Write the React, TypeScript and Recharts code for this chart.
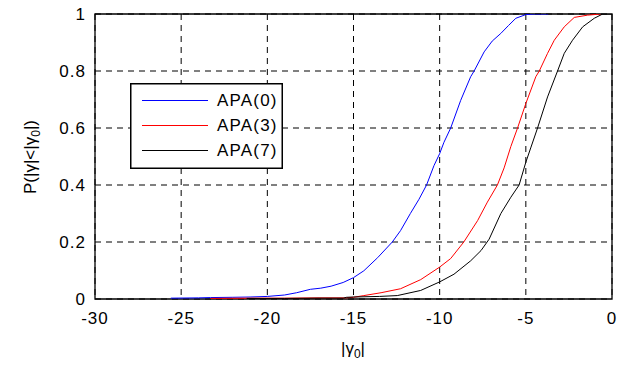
import React from 'react';
import { LineChart, Line, XAxis, YAxis, CartesianGrid, ReferenceArea, Legend, Customized } from 'recharts';

const apa0X = [-25.6, -24, -23.3, -22, -21, -20, -19, -18.3, -17.5, -16.9, -16.3, -15.6, -15, -14.4, -13.6, -12.75, -12.27, -11.7, -11.2, -10.76, -10.33, -10, -9.75, -9.36, -8.78, -8.2, -8.0, -7.42, -6.95, -6.45, -6.0, -5.58, -5.0, -4.5, -3.7];
const apa0P = [0.003, 0.004, 0.005, 0.006, 0.007, 0.009, 0.014, 0.022, 0.034, 0.038, 0.045, 0.058, 0.075, 0.099, 0.145, 0.2, 0.24, 0.3, 0.35, 0.4, 0.468, 0.51, 0.55, 0.6, 0.697, 0.78, 0.8, 0.867, 0.905, 0.932, 0.96, 0.985, 0.998, 1.0, 1.0];

const apa3X = [-23.3, -21, -19, -17, -15.5, -15, -14.4, -13.4, -12.27, -11.1, -10, -9.36, -8.6, -7.8, -7.23, -6.65, -6.26, -5.87, -5.48, -5.0, -4.42, -4.22, -3.74, -3.35, -2.77, -2.19, -1.41, -0.64];
const apa3P = [0.002, 0.003, 0.003, 0.004, 0.004, 0.006, 0.012, 0.022, 0.036, 0.068, 0.112, 0.142, 0.2, 0.275, 0.34, 0.4, 0.46, 0.535, 0.6, 0.686, 0.78, 0.8, 0.862, 0.908, 0.955, 0.988, 0.996, 1.0];

const apa7X = [-21.2, -19, -17, -15.6, -15.4, -15, -13.5, -12.46, -11.1, -10, -9.17, -8.2, -7.6, -7.13, -6.45, -5.87, -5.39, -5.0, -4.7, -4.32, -3.74, -3.16, -2.77, -2.29, -1.7, -1.03, -0.54, 0];
const apa7P = [0.002, 0.002, 0.003, 0.003, 0.006, 0.007, 0.009, 0.012, 0.03, 0.06, 0.087, 0.134, 0.17, 0.21, 0.3, 0.357, 0.4, 0.48, 0.533, 0.6, 0.709, 0.8, 0.862, 0.908, 0.955, 0.985, 1.0, 1.0];

const xTicks = [-30, -25, -20, -15, -10, -5, 0];
const yTicks = [0, 0.2, 0.4, 0.6, 0.8, 1];
const yTickLabels = ['0', '0.2', '0.4', '0.6', '0.8', '1'];
const seriesNames = ['APA(0)', 'APA(3)', 'APA(7)'];
const seriesColors = ['#0000ff', '#ff0000', '#000000'];

const toRows = (xs: number[], ps: number[]) => xs.map((x, i) => ({ x, p: ps[i] }));
const seriesData = [toRows(apa0X, apa0P), toRows(apa3X, apa3P), toRows(apa7X, apa7P)];

const FONT = '"Liberation Sans", Arial, Helvetica, sans-serif';
const tickStyle = { fill: '#000', fontSize: 17, fontFamily: FONT, letterSpacing: 1 };

const LegendBox = () => (
  <div
    style={{
      width: 153,
      height: 86,
      boxSizing: 'border-box',
      boxShadow: 'inset 0 0 0 1.5px #000',
      background: '#fff',
      position: 'relative',
      fontFamily: FONT,
      fontSize: 17,
      letterSpacing: 1.2,
      color: '#000',
    }}
  >
    {seriesNames.map((n, i) => (
      <div key={n} style={{ position: 'absolute', left: 0, top: 7 + 25 * i, height: 22, width: '100%' }}>
        <div style={{ position: 'absolute', left: 12, top: 10, width: 66, height: 1, background: seriesColors[i] }} />
        <span style={{ position: 'absolute', left: 87, top: 0, lineHeight: '22px', whiteSpace: 'nowrap' }}>{n}</span>
      </div>
    ))}
  </div>
);

const AxisLabels = () => (
  <g fontFamily={FONT} fontSize={17} fill="#000">
    <text x={353} y={354} textAnchor="middle">
      |γ<tspan fontSize={12} dy={4}>0</tspan><tspan dy={-4}>|</tspan>
    </text>
    <text x={0} y={0} textAnchor="middle" transform="translate(36,157) rotate(-90)">
      P(|γ|&lt;|γ<tspan fontSize={12} dy={4}>0</tspan><tspan dy={-4}>|)</tspan>
    </text>
  </g>
);

export default function App() {
  return (
    <div style={{ position: 'absolute', left: 0, top: 0, width: 628, height: 365, background: '#fff' }}>
      <LineChart width={628} height={365} margin={{ top: 14, right: 16, bottom: 36, left: 35 }}>
        <CartesianGrid stroke="#000" strokeDasharray="6 5" strokeWidth={1} />
        <XAxis
          type="number"
          dataKey="x"
          domain={[-30, 0]}
          ticks={xTicks}
          allowDataOverflow
          tickSize={0}
          tickMargin={13}
          axisLine={false}
          tick={tickStyle}
          height={30}
        />
        <YAxis
          type="number"
          domain={[0, 1]}
          ticks={yTicks}
          tickFormatter={(v: number) => yTickLabels[yTicks.indexOf(v)] ?? String(v)}
          allowDataOverflow
          tickSize={0}
          tickMargin={9}
          axisLine={false}
          tick={tickStyle}
          width={60}
        />
        {seriesData.map((d, i) => (
          <Line
            key={seriesNames[i]}
            data={d}
            dataKey="p"
            name={seriesNames[i]}
            stroke={seriesColors[i]}
            strokeWidth={1}
            dot={false}
            isAnimationActive={false}
            type="linear"
          />
        ))}
        <ReferenceArea x1={-30} x2={0} y1={0} y2={1} fill="none" fillOpacity={0} stroke="#000" strokeWidth={1.3} ifOverflow="visible" />
        <Legend
          content={<LegendBox />}
          layout="vertical"
          align="center"
          verticalAlign="middle"
          wrapperStyle={{ left: 130, top: 83, width: 153, height: 86 }}
        />
        <Customized component={<AxisLabels />} />
      </LineChart>
    </div>
  );
}
